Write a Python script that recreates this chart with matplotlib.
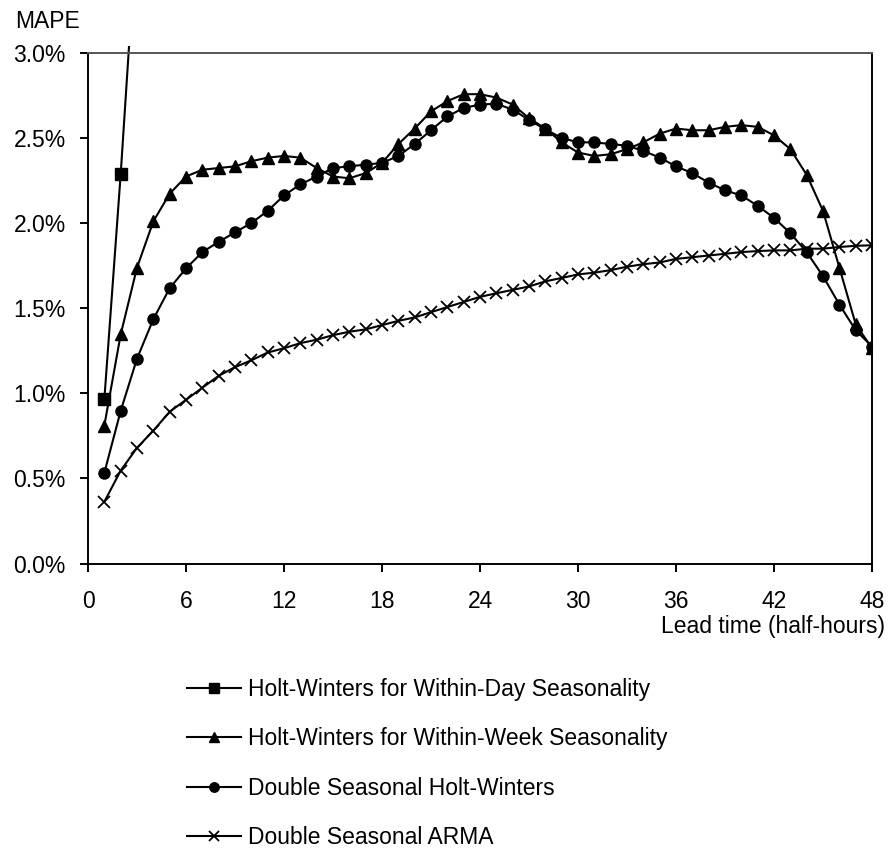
import matplotlib
matplotlib.use("Agg")
import matplotlib.pyplot as plt
from matplotlib.ticker import PercentFormatter
from matplotlib.patches import Rectangle

plt.rcParams['font.family'] = ['Liberation Sans', 'DejaVu Sans']

# MAPE (%) by lead time (half-hours)
lead = list(range(1, 49))

hw_day = [0.966, 2.288, 3.76]

hw_week = [0.811, 1.346, 1.739, 2.011, 2.173, 2.274, 2.314, 2.324, 2.334, 2.364,
           2.385, 2.395, 2.385, 2.324, 2.274, 2.264, 2.294, 2.354, 2.465, 2.556,
           2.657, 2.717, 2.758, 2.758, 2.738, 2.697, 2.617, 2.556, 2.475, 2.415,
           2.395, 2.405, 2.435, 2.475, 2.526, 2.556, 2.546, 2.546, 2.566, 2.576,
           2.566, 2.516, 2.435, 2.284, 2.072, 1.739, 1.406, 1.265]

dshw = [0.533, 0.897, 1.204, 1.436, 1.618, 1.734, 1.830, 1.890, 1.946, 2.001,
        2.072, 2.163, 2.228, 2.274, 2.324, 2.334, 2.344, 2.354, 2.395, 2.465,
        2.546, 2.627, 2.677, 2.697, 2.702, 2.667, 2.607, 2.551, 2.501, 2.475,
        2.475, 2.465, 2.455, 2.425, 2.385, 2.334, 2.294, 2.238, 2.193, 2.163,
        2.102, 2.031, 1.941, 1.830, 1.688, 1.522, 1.371, 1.275]

arma = [0.363, 0.546, 0.680, 0.781, 0.892, 0.962, 1.033, 1.103, 1.154, 1.194,
        1.240, 1.265, 1.295, 1.315, 1.342, 1.362, 1.376, 1.401, 1.426, 1.446,
        1.477, 1.507, 1.537, 1.567, 1.588, 1.608, 1.628, 1.658, 1.678, 1.699,
        1.709, 1.724, 1.744, 1.759, 1.769, 1.790, 1.800, 1.810, 1.820, 1.830,
        1.836, 1.840, 1.840, 1.850, 1.850, 1.860, 1.867, 1.870]

labels = ["Holt-Winters for Within-Day Seasonality",
          "Holt-Winters for Within-Week Seasonality",
          "Double Seasonal Holt-Winters",
          "Double Seasonal ARMA"]

fs = 16.5
fig = plt.figure(figsize=(8.9, 8.52), dpi=100)
ax = fig.add_axes([0.0989, 0.3386, 0.8809, 0.5992])

l1, = ax.plot(lead[:len(hw_day)], hw_day, color='black', lw=1.5, marker='s', ms=8.5, label=labels[0])
l1.set_clip_path(Rectangle((0, 0), 1, 1.013, transform=ax.transAxes))
ax.plot(lead, hw_week, color='black', lw=1.5, marker='^', ms=9, label=labels[1])
ax.plot(lead, dshw, color='black', lw=1.5, marker='o', ms=8, label=labels[2])
ax.plot(lead, arma, color='black', lw=1.5, marker='x', ms=9, mew=1.3, label=labels[3])

ax.set_xlim(0, 48)
ax.set_ylim(0, 3.0)
ax.set_xticks(range(0, 49, 6))
ax.set_yticks([0, 0.5, 1.0, 1.5, 2.0, 2.5, 3.0])
ax.yaxis.set_major_formatter(PercentFormatter(xmax=100, decimals=1))

for s in ax.spines.values():
    s.set_linewidth(1.4)
ax.spines['top'].set_color('#555555')
ax.tick_params(axis='both', direction='out', length=6, width=1.4, labelsize=fs)
ax.tick_params(axis='y', pad=10)
ax.tick_params(axis='x', pad=13)

fig.text(15 / 890, 1 - 22 / 852, "MAPE", fontsize=fs, ha='left', va='center')
fig.text(885 / 890, 1 - 627 / 852, "Lead time (half-hours)", fontsize=fs, ha='right', va='center')

fig.legend(loc='upper left', bbox_to_anchor=(187 / 890, 1 - 678 / 852), frameon=False,
           fontsize=fs, handlelength=2.36, handletextpad=0.3, labelspacing=1.15,
           borderpad=0, borderaxespad=0, markerscale=0.85)

fig.savefig("out.png", dpi=100)
